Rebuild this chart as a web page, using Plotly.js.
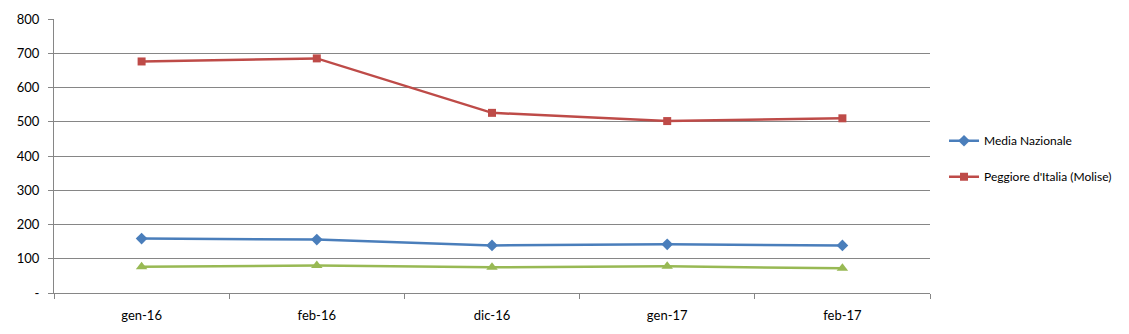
<!DOCTYPE html>
<html>
<head>
<meta charset="utf-8">
<script src="https://cdn.plot.ly/plotly-3.0.1.min.js"></script>
<style>html,body{margin:0;padding:0;background:#fff}#chart{width:1129px;height:334px}</style>
</head>
<body>
<div id="chart"></div>
<script>
var categories = ["gen-16", "feb-16", "dic-16", "gen-17", "feb-17"];
var mediaNazionale = [159, 156, 139, 142, 139];
var peggiore = [676, 685, 526, 502, 510];
var migliore = [77, 80, 75, 78, 72];
var yTickVals = [0, 100, 200, 300, 400, 500, 600, 700, 800];
var yTickText = ["-", "100", "200", "300", "400", "500", "600", "700", "800"];

var font = {family: "Lato, 'Liberation Sans', Arial, sans-serif", size: 13, color: "#000"};
var legendFont = {family: "Lato, 'Liberation Sans', Arial, sans-serif", size: 12, color: "#000"};

var traces = [
  {x: categories, y: mediaNazionale, name: "Media Nazionale", type: "scatter", mode: "lines+markers",
   legendgroup: "a",
   line: {color: "#4A7EBB", width: 2.5}, marker: {symbol: "diamond", size: 9, color: "#4A7EBB"}},
  {x: categories, y: peggiore, name: "Peggiore d'Italia (Molise)", type: "scatter", mode: "lines+markers",
   legendgroup: "b",
   line: {color: "#BE4B48", width: 2.5}, marker: {symbol: "square", size: 8, color: "#BE4B48"}},
  {x: categories, y: migliore, name: "Migliore d'Italia", type: "scatter", mode: "lines+markers",
   showlegend: false,
   line: {color: "#98B954", width: 2.5}, marker: {symbol: "triangle-up", size: 10, color: "#98B954"}}
];

var layout = {
  width: 1129, height: 334,
  margin: {l: 54, r: 196, t: 19, b: 41, pad: 0},
  paper_bgcolor: "#fff", plot_bgcolor: "#fff",
  font: font,
  showlegend: true,
  legend: {x: 1.016, y: 0.49, xanchor: "left", yanchor: "middle", font: legendFont,
           traceorder: "grouped", tracegroupgap: 17, bgcolor: "rgba(0,0,0,0)"},
  xaxis: {type: "category", tickson: "boundaries", ticks: "outside", ticklen: 5,
          tickcolor: "#868686", showline: true, linecolor: "#868686", linewidth: 1,
          showgrid: false, zeroline: false, range: [-0.5, 4.5], fixedrange: true,
          tickfont: font, ticklabelstandoff: 10},
  yaxis: {range: [0, 800], tickvals: yTickVals, ticktext: yTickText, ticks: "outside", ticklen: 5,
          tickcolor: "#868686", showline: true, linecolor: "#868686", linewidth: 1,
          showgrid: true, gridcolor: "#868686", gridwidth: 1, zeroline: false,
          tickfont: font, ticklabelstandoff: 6}
};

Plotly.newPlot("chart", traces, layout, {staticPlot: true, displayModeBar: false});
</script>
</body>
</html>
